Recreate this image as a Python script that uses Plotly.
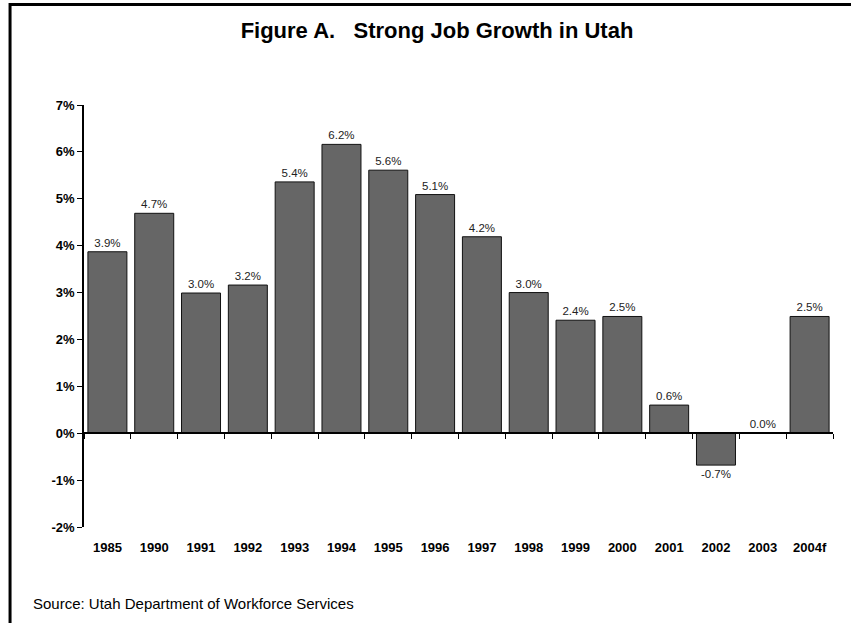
import plotly.graph_objects as go

years = ["1985", "1990", "1991", "1992", "1993", "1994", "1995", "1996",
         "1997", "1998", "1999", "2000", "2001", "2002", "2003", "2004f"]
growth = [3.87, 4.69, 2.99, 3.16, 5.36, 6.16, 5.61, 5.09,
          4.19, 3.0, 2.41, 2.49, 0.6, -0.68, 0.0, 2.49]
y_ticks = [-2, -1, 0, 1, 2, 3, 4, 5, 6, 7]

W, H = 851, 623
L, R, T, B = 83.5, 833, 105, 527

def px_x(p):
    return (p - L) / (R - L)

def px_y(p):
    return (B - p) / (B - T)

fig = go.Figure()
fig.add_trace(go.Bar(
    x=years, y=growth,
    marker=dict(color="#666666", line=dict(color="#111111", width=1)),
    texttemplate="%{y:.1f}%",
    textposition="outside",
    textfont=dict(family="Liberation Sans, Arial", size=11.5, color="#222222"),
    cliponaxis=False,
    hoverinfo="skip",
))

fig.update_layout(
    width=W, height=H,
    margin=dict(l=L, r=W - R, t=T, b=H - B),
    paper_bgcolor="white", plot_bgcolor="white",
    showlegend=False,
    bargap=0.167,
    title=dict(
        text="<b>Figure A.&nbsp;&nbsp; Strong Job Growth in Utah</b>",
        x=437 / W, xanchor="center", xref="container",
        y=1 - 30 / H, yanchor="middle", yref="container",
        font=dict(family="Liberation Sans, Arial", size=22, color="black"),
    ),
    xaxis=dict(
        type="category",
        anchor="free", position=2 / 9,
        showline=True, linecolor="black", linewidth=1.5,
        ticks="outside", ticklen=5, tickcolor="black", tickwidth=1,
        tickson="boundaries",
        ticklabelstandoff=102,
        tickfont=dict(family="Liberation Sans, Arial", size=13, color="black", weight="bold"),
        showgrid=False,
    ),
    yaxis=dict(
        range=[-2, 7], tickvals=y_ticks,
        ticktext=[f"{v}%" for v in y_ticks],
        showline=True, linecolor="black", linewidth=1.5,
        ticks="outside", ticklen=5, tickcolor="black", tickwidth=1,
        tickfont=dict(family="Liberation Sans, Arial", size=13, color="black", weight="bold"),
        showgrid=False, zeroline=False,
    ),
    annotations=[dict(
        text="Source: Utah Department of Workforce Services",
        xref="paper", yref="paper",
        x=px_x(30), y=px_y(603), xanchor="left", yanchor="middle",
        showarrow=False,
        font=dict(family="Liberation Sans, Arial", size=15, color="black"),
    )],
    shapes=[
        dict(type="line", xref="paper", yref="paper",
             x0=px_x(9.5), x1=px_x(W + 5), y0=px_y(4.5), y1=px_y(4.5),
             line=dict(color="black", width=3)),
        dict(type="line", xref="paper", yref="paper",
             x0=px_x(9.5), x1=px_x(9.5), y0=px_y(3), y1=px_y(H + 5),
             line=dict(color="black", width=3)),
    ],
)

fig.write_html(
    "out.html",
    config={"displayModeBar": False},
    post_script="document.body.style.margin='0';document.body.style.overflow='hidden';",
)
